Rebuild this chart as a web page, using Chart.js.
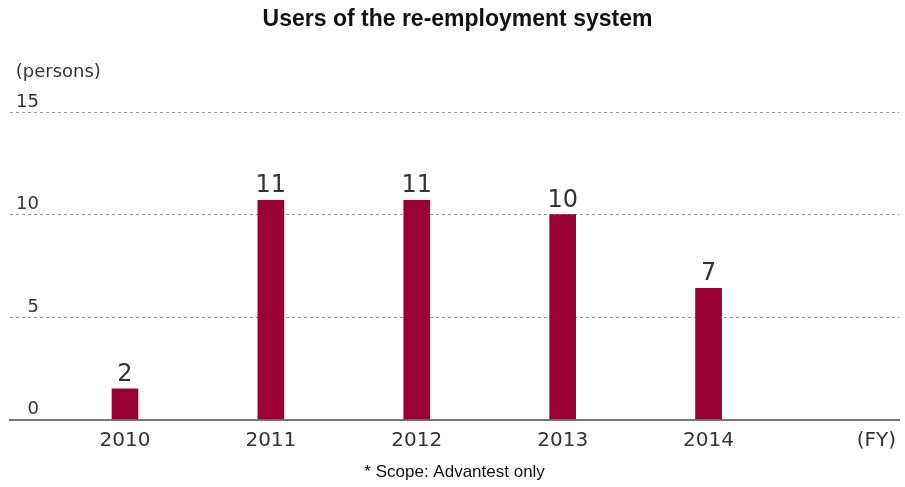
<!DOCTYPE html>
<html>
<head>
<meta charset="utf-8">
<title>Users of the re-employment system</title>
<script src="https://cdn.jsdelivr.net/npm/chart.js@4/dist/chart.umd.min.js"></script>
<style>
  html, body { margin: 0; padding: 0; background: #fff; }
  #chart { display: block; }
</style>
</head>
<body>
<canvas id="chart" width="905" height="487"></canvas>
<script>
// Data
const years = ['2010', '2011', '2012', '2013', '2014'];
const userCounts = [2, 11, 11, 10, 7];          // printed above the bars
const barHeights = [1.5, 10.7, 10.7, 10, 6.4];  // bars as drawn in the picture
const yTicks = [0, 5, 10, 15];
const fyLabel = '(FY)';
const fyPosition = 5.15; // where "(FY)" sits on the x axis, in category units

const barColor = '#990033';
const textColor = '#333';

// x tick positions: one per year, plus the (FY) marker
const xTickValues = years.map((y, i) => i).concat([fyPosition]);
const xTickLabels = years.concat([fyLabel]);

// Draw the counts above each bar
const valueLabels = {
  id: 'valueLabels',
  afterDatasetsDraw(chart) {
    const ctx = chart.ctx;
    const meta = chart.getDatasetMeta(0);
    ctx.save();
    ctx.font = '24px "DejaVu Sans"';
    ctx.fillStyle = textColor;
    ctx.textAlign = 'center';
    ctx.textBaseline = 'alphabetic';
    meta.data.forEach((bar, i) => {
      ctx.fillText(String(userCounts[i]), bar.x, bar.y - 8);
    });
    ctx.restore();
  }
};

Chart.defaults.font.family = '"DejaVu Sans", sans-serif';
Chart.defaults.color = textColor;

new Chart(document.getElementById('chart'), {
  type: 'bar',
  data: {
    datasets: [{
      label: 'Users',
      data: barHeights.map((v, i) => ({ x: i, y: v })),
      backgroundColor: barColor,
      borderWidth: 0,
      barThickness: 26
    }]
  },
  options: {
    responsive: false,
    animation: false,
    devicePixelRatio: 1,
    layout: { autoPadding: false, padding: { left: 10, right: 0, top: 0, bottom: 0 } },
    plugins: {
      legend: { display: false },
      tooltip: { enabled: false },
      title: {
        display: true,
        text: 'Users of the re-employment system',
        color: '#111',
        font: { family: '"Liberation Sans", Arial, sans-serif', size: 23, weight: 'bold', lineHeight: 1.2 },
        padding: { top: 6, bottom: 20 }
      },
      subtitle: {
        display: true,
        text: ' (persons)',
        align: 'start',
        color: textColor,
        font: { size: 18, lineHeight: 1.2 },
        padding: { top: 8, bottom: 29 }
      }
    },
    scales: {
      x: {
        type: 'linear',
        offset: false,
        min: -0.788,
        max: 5.307,
        afterBuildTicks: scale => {
          scale.ticks = xTickValues.map(v => ({ value: v }));
        },
        ticks: {
          autoSkip: false,
          maxRotation: 0,
          padding: 9,
          color: textColor,
          font: { size: 20, lineHeight: 1.2 },
          callback: (value, index) => xTickLabels[index]
        },
        grid: { display: false, drawTicks: false },
        border: { display: true, color: '#777', width: 2 },
        title: {
          display: true,
          text: '* Scope: Advantest only',
          color: '#111',
          font: { family: '"Liberation Sans", Arial, sans-serif', size: 17, lineHeight: 1.2 },
          padding: { top: 1, bottom: 4 }
        }
      },
      y: {
        min: 0,
        max: 15,
        afterBuildTicks: scale => {
          scale.ticks = yTicks.map(v => ({ value: v }));
        },
        afterFit: scale => {
          scale.width = 0;
        },
        ticks: {
          mirror: true,
          crossAlign: 'far',
          padding: 6,
          labelOffset: -10,
          color: textColor,
          font: { size: 18 }
        },
        grid: { color: '#999', lineWidth: 1, drawTicks: false },
        border: { display: false, dash: [3, 3] }
      }
    }
  },
  plugins: [valueLabels]
});
</script>
</body>
</html>
